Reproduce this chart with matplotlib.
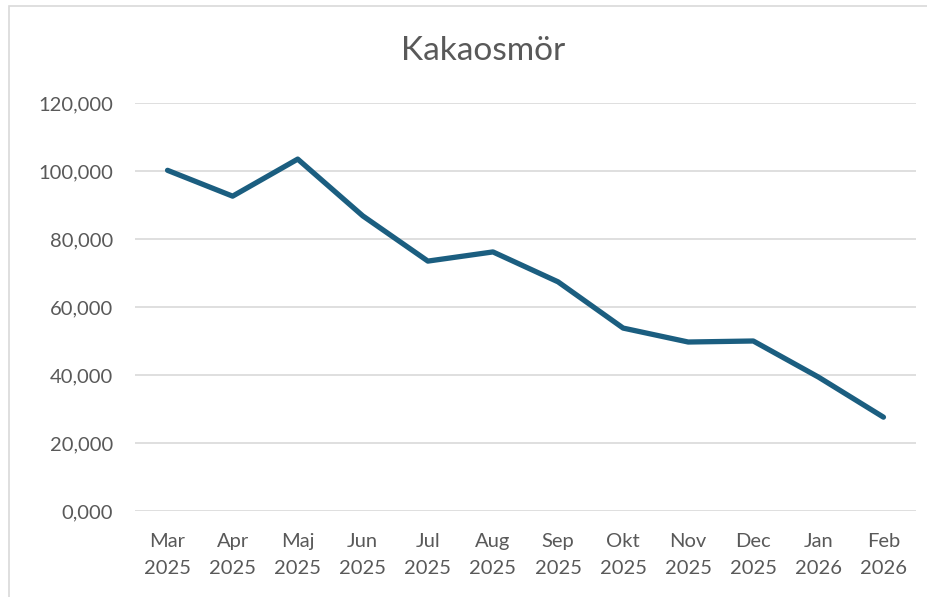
import matplotlib
matplotlib.use("Agg")
import matplotlib.pyplot as plt
from matplotlib.patches import Rectangle
from matplotlib.ticker import FuncFormatter

months = ["Mar\n2025", "Apr\n2025", "Maj\n2025", "Jun\n2025", "Jul\n2025", "Aug\n2025",
          "Sep\n2025", "Okt\n2025", "Nov\n2025", "Dec\n2025", "Jan\n2026", "Feb\n2026"]
values = [100.2, 92.6, 103.5, 86.8, 73.5, 76.2, 67.4, 53.8, 49.7, 50.0, 39.4, 27.6]
yticks = [0, 20, 40, 60, 80, 100, 120]

plt.rcParams['font.family'] = ['Lato', 'DejaVu Sans']

W, H = 928, 597
fig = plt.figure(figsize=(W/100, H/100), dpi=100)
fig.patches.append(Rectangle((9.5/W, -0.1), 1.2, 1 - 5.5/H + 0.1, transform=fig.transFigure,
                             facecolor='white', edgecolor='#D9D9D9', linewidth=1.2, zorder=-5))
ax = fig.add_axes([135/W, 1 - 511/H, (916-135)/W, (511-103)/H])
ax.set_facecolor('none')
x = list(range(len(months)))
ax.plot(x, values, color='#1B5E80', linewidth=3.8, solid_joinstyle='round', solid_capstyle='round', zorder=3)
ax.set_xlim(-0.5, len(months) - 0.5)
ax.set_ylim(0, 120)
ax.set_yticks(yticks)
ax.yaxis.set_major_formatter(FuncFormatter(lambda v, p: f"{int(v)},000"))
ax.set_xticks(x)
ax.set_xticklabels(months, linespacing=1.72)
ax.grid(axis='y', color='#D9D9D9', linewidth=1.2)
ax.set_axisbelow(True)
for s in ax.spines.values():
    s.set_visible(False)
ax.tick_params(axis='both', length=0, labelsize=14.5, colors='#595959')
ax.tick_params(axis='y', pad=16)
ax.tick_params(axis='x', pad=15.5)
fig.text(483/W, 1 - 51/H, "Kakaosmör", ha='center', va='center', fontsize=24, color='#595959')
fig.savefig("out.png", dpi=100)
